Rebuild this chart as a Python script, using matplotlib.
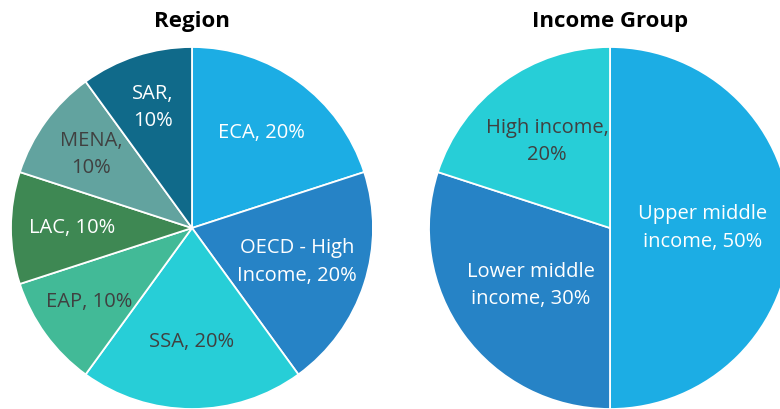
"""Two pie charts: share of countries by region and by income group."""

import numpy as np
from matplotlib import pyplot as plt

region_labels = ["ECA", "OECD - High\nIncome", "SSA", "EAP", "LAC", "MENA", "SAR"]
region_values = [20, 20, 20, 10, 10, 10, 10]
region_colors = ["#1CADE4", "#2683C6", "#27CED7", "#42BA97", "#3E8853", "#62A39F", "#106A8A"]
region_text = ["white", "white", "#404040", "#404040", "white", "#404040", "white"]
region_dist = [0.65, 0.61, 0.63, 0.70, 0.66, 0.69, 0.70]
region_wrap = [False, False, False, False, False, True, True]

income_labels = ["Upper middle\nincome", "Lower middle\nincome", "High income"]
income_values = [50, 30, 20]
income_colors = ["#1CADE4", "#2683C6", "#27CED7"]
income_text = ["white", "white", "#404040"]
income_dist = [0.51, 0.54, 0.59]
income_wrap = [False, False, True]

FONT = "Open Sans"
W, H = 780, 409
RADIUS_PX = 181


def draw_pie(fig, cx, cy, title, labels, values, colors, text_colors, dists, wraps):
    ax = fig.add_axes([(cx - RADIUS_PX) / W, (H - cy - RADIUS_PX) / H,
                       2 * RADIUS_PX / W, 2 * RADIUS_PX / H])
    wedges, _ = ax.pie(values, colors=colors, startangle=90, counterclock=False,
                       radius=1, wedgeprops=dict(edgecolor="white", linewidth=1.3))
    total = sum(values)
    for wedge, label, value, color, dist, wrap in zip(
            wedges, labels, values, text_colors, dists, wraps):
        mid = np.deg2rad((wedge.theta1 + wedge.theta2) / 2)
        sep = ",\n" if wrap else ", "
        txt = f"{label}{sep}{value / total:.0%}"
        ax.text(dist * np.cos(mid), dist * np.sin(mid), txt, ha="center", va="center",
                color=color, fontsize=14.5, family=FONT, linespacing=1.5)
    ax.set_xlim(-1, 1)
    ax.set_ylim(-1, 1)
    ax.set_aspect("auto")
    ax.axis("off")
    fig.text(cx / W, 1 - 21 / H, title, ha="center", va="center",
             fontsize=16, fontweight="bold", family=FONT)


def main():
    fig = plt.figure(figsize=(W / 100, H / 100), dpi=100)
    draw_pie(fig, 192, 228, "Region", region_labels, region_values, region_colors,
             region_text, region_dist, region_wrap)
    draw_pie(fig, 610, 228, "Income Group", income_labels, income_values, income_colors,
             income_text, income_dist, income_wrap)
    fig.savefig("out.png", dpi=100)


if __name__ == "__main__":
    main()
